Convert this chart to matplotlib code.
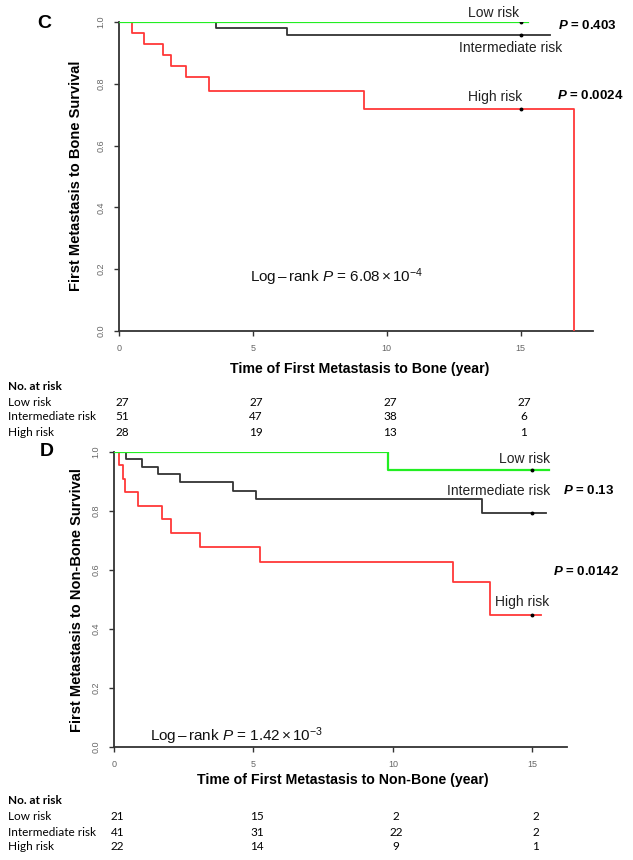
import matplotlib
matplotlib.use("Agg")
import matplotlib.pyplot as plt
from matplotlib.transforms import blended_transform_factory

plt.rcParams['font.family'] = ['Liberation Sans', 'DejaVu Sans']
plt.rcParams['mathtext.fontset'] = 'custom'
plt.rcParams['mathtext.rm'] = 'Liberation Sans'
plt.rcParams['mathtext.it'] = 'Liberation Sans:italic'
plt.rcParams['mathtext.bf'] = 'Liberation Sans:bold'
plt.rcParams['mathtext.bfit'] = 'Liberation Sans:italic:bold'

# Panel C: first metastasis to bone (Kaplan-Meier steps)
c_low_t = [0, 15.28]
c_low_s = [1.0, 1.0]
c_int_t = [0, 3.62, 6.27, 16.1]
c_int_s = [1.0, 0.980, 0.959, 0.959]
c_high_t = [0, 0.47, 0.94, 1.63, 1.93, 2.49, 3.35, 9.14, 17.0]
c_high_s = [1.0, 0.964, 0.929, 0.893, 0.857, 0.821, 0.777, 0.720, 0.0]
c_censor = [1.0, 0.959, 0.720]

# Panel D: first metastasis to non-bone
d_low_t = [0, 9.82, 15.6]
d_low_s = [1.0, 0.938, 0.938]
d_int_t = [0, 0.43, 1.0, 1.58, 2.37, 4.27, 5.09, 13.2, 15.5]
d_int_s = [1.0, 0.976, 0.949, 0.925, 0.898, 0.868, 0.841, 0.793, 0.793]
d_high_t = [0, 0.18, 0.32, 0.39, 0.86, 1.72, 2.04, 3.08, 5.23, 12.15, 13.48, 15.3]
d_high_s = [1.0, 0.955, 0.909, 0.864, 0.818, 0.773, 0.727, 0.677, 0.627, 0.559, 0.447, 0.447]
d_censor = [0.938, 0.793, 0.447]

groups = ['Low risk', 'Intermediate risk', 'High risk']
risk_times = [0, 5, 10, 15]
c_at_risk = [[27, 27, 27, 27], [51, 47, 38, 6], [28, 19, 13, 1]]
d_at_risk = [[21, 15, 2, 2], [41, 31, 22, 2], [22, 14, 9, 1]]

GREEN = '#22ee22'
GREY = '#333333'
RED = '#ff3838'

W, H = 633, 860
fig = plt.figure(figsize=(W / 100, H / 100), dpi=100)


def px(x, y):
    return x / W, 1 - y / H


def make_axes(x0, x1, ytop, ybot, xmax):
    ax = fig.add_axes([x0 / W, 1 - ybot / H, (x1 - x0) / W, (ybot - ytop) / H])
    ax.set_xlim(0, xmax)
    ax.set_ylim(0, 1)
    for s in ['top', 'right']:
        ax.spines[s].set_visible(False)
    for s in ['left', 'bottom']:
        ax.spines[s].set_color(GREY)
        ax.spines[s].set_linewidth(1.3)
    ax.set_xticks([0, 5, 10, 15])
    ax.set_yticks([0, 0.2, 0.4, 0.6, 0.8, 1.0])
    ax.set_yticklabels(['0.0', '0.2', '0.4', '0.6', '0.8', '1.0'], rotation=90, va='center')
    ax.tick_params(length=3.5, width=1, color=GREY, labelsize=6.5, labelcolor='#666666', pad=6)
    return ax


def draw_curves(ax, lt, ls, it, is_, ht, hs, cens):
    ax.step(it, is_, where='post', color=GREY, lw=1.3, zorder=3)
    ax.step(ht, hs, where='post', color=RED, lw=1.3, zorder=3)
    ax.step(lt, ls, where='post', color=GREEN, lw=1.6, zorder=4)
    ax.plot([15, 15, 15], cens, 'o', color='black', ms=1.8, zorder=5)


def risk_table(ax, y0, counts):
    tr = blended_transform_factory(ax.transData, fig.transFigure)
    fig.text(*px(8, y0), 'No. at risk', fontsize=8.5, fontweight='bold',
             family='Lato', va='center')
    for i, g in enumerate(groups):
        yy = y0 + 16 + 15 * i
        fig.text(*px(8, yy), g, fontsize=8.5, family='Lato', va='center')
        for t, n in zip(risk_times, counts[i]):
            fig.text(t + 0.12, 1 - yy / H, str(n), fontsize=8.5, family='Lato',
                     va='center', ha='center', transform=tr)


LOGRANK_C = r'Log$\,$–$\,$rank $P$ = 6.08$\,$×$\,$10$^{-4}$'
LOGRANK_D = r'Log$\,$–$\,$rank $P$ = 1.42$\,$×$\,$10$^{-3}$'

# ---- Panel C ----
axc = make_axes(119, 593, 22, 331, 17.7)
draw_curves(axc, c_low_t, c_low_s, c_int_t, c_int_s, c_high_t, c_high_s, c_censor)
axc.text(14.95, 1.005, 'Low risk', fontsize=10, ha='right', va='bottom', color='#222222')
axc.text(16.55, 0.94, 'Intermediate risk', fontsize=10, ha='right', va='top', color='#222222')
axc.text(15.05, 0.735, 'High risk', fontsize=10, ha='right', va='bottom', color='#222222')
axc.text(16.4, 0.99, r'$\mathbfit{P}$ = 0.403', fontsize=9.5, fontweight='bold', va='center')
axc.text(16.35, 0.763, r'$\mathbfit{P}$ = 0.0024', fontsize=9.5, fontweight='bold', va='center')
axc.text(4.9, 0.175, LOGRANK_C, fontsize=11, va='center', color='#111111')
fig.text(*px(44, 23), 'C', fontsize=14, fontweight='bold', ha='center', va='center')
fig.text(*px(76, 176), 'First Metastasis to Bone Survival', fontsize=10.5,
         fontweight='bold', rotation=90, ha='center', va='center')
fig.text(*px(360, 369), 'Time of First Metastasis to Bone (year)', fontsize=10.2,
         fontweight='bold', ha='center', va='center')
risk_table(axc, 386, c_at_risk)

# ---- Panel D ----
axd = make_axes(114, 567, 452, 747, 16.24)
draw_curves(axd, d_low_t, d_low_s, d_int_t, d_int_s, d_high_t, d_high_s, d_censor)
axd.text(15.65, 0.975, 'Low risk', fontsize=10, ha='right', va='center', color='#222222')
axd.text(15.65, 0.868, 'Intermediate risk', fontsize=10, ha='right', va='center', color='#222222')
axd.text(16.1, 0.868, r'$\mathbfit{P}$ = 0.13', fontsize=9.5, fontweight='bold', va='center')
axd.text(15.6, 0.493, 'High risk', fontsize=10, ha='right', va='center', color='#222222')
axd.text(15.75, 0.595, r'$\mathbfit{P}$ = 0.0142', fontsize=9.5, fontweight='bold', va='center')
axd.text(1.3, 0.035, LOGRANK_D, fontsize=11, va='center', color='#111111')
fig.text(*px(47, 452), 'D', fontsize=14, fontweight='bold', ha='center', va='center')
fig.text(*px(77, 600), 'First Metastasis to Non-Bone Survival', fontsize=10.5,
         fontweight='bold', rotation=90, ha='center', va='center')
fig.text(*px(343, 780), 'Time of First Metastasis to Non-Bone (year)', fontsize=10.2,
         fontweight='bold', ha='center', va='center')
risk_table(axd, 801, d_at_risk)

fig.savefig('out.png', dpi=100)
